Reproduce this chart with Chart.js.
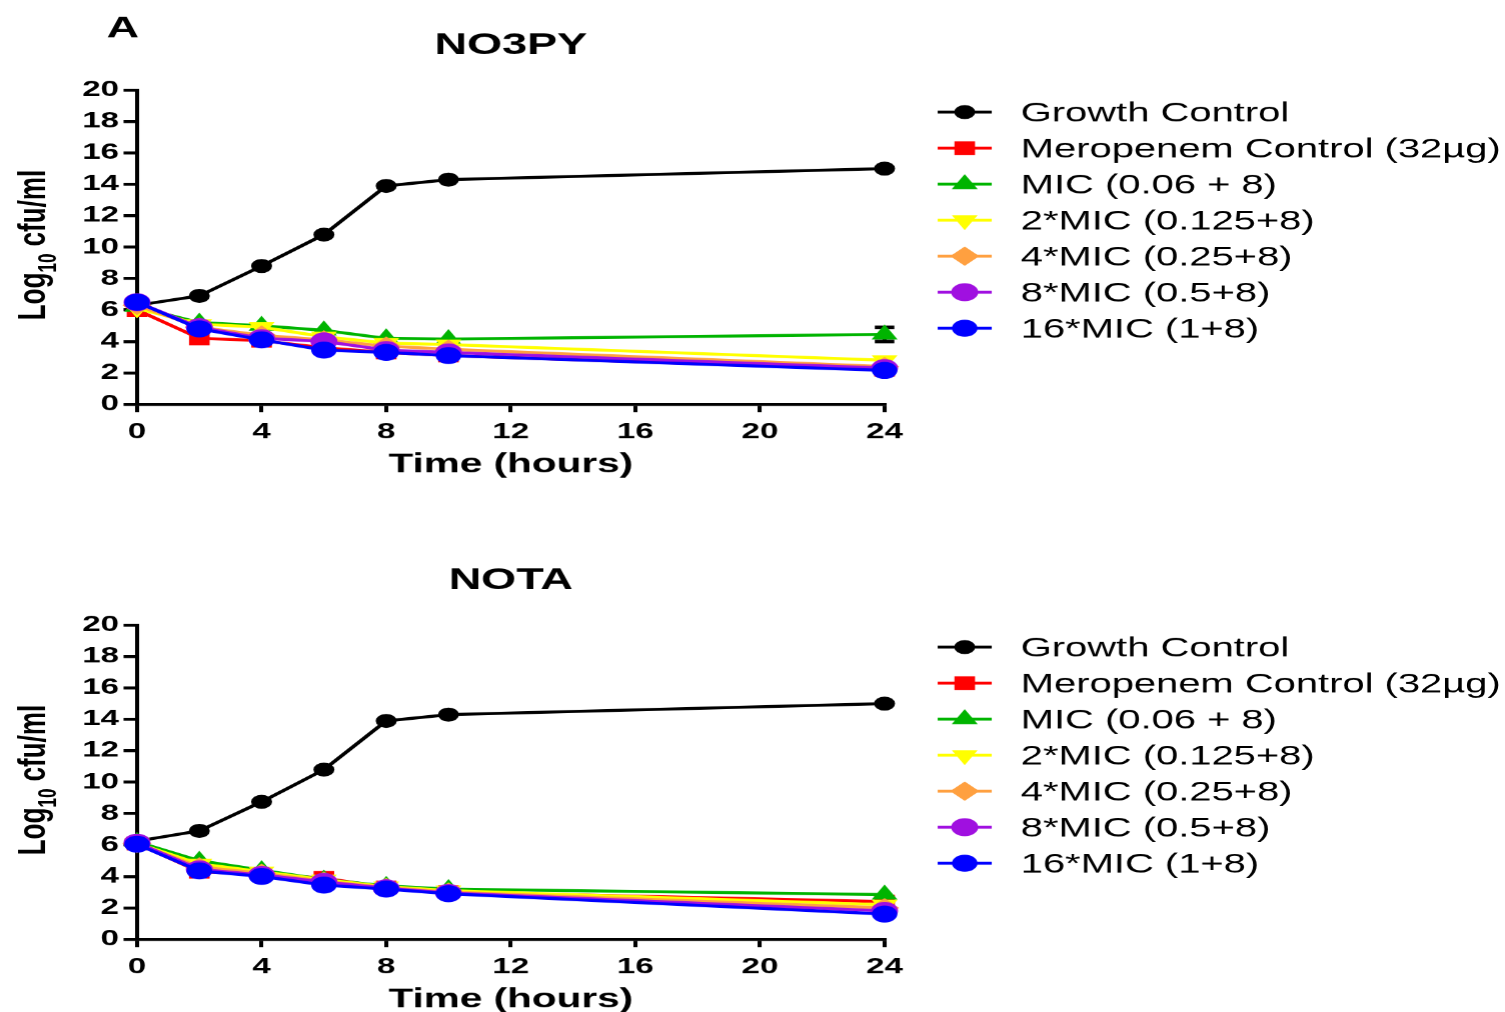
<!DOCTYPE html>
<html><head><meta charset="utf-8">
<script src="https://cdn.jsdelivr.net/npm/chart.js@4.4.0/dist/chart.umd.min.js"></script>
<style>
html,body{margin:0;padding:0;background:#fff;width:1505px;height:1012px;overflow:hidden;position:relative}
canvas{position:absolute;left:0}
</style></head><body>
<canvas id="c1" width="1003" height="535" style="width:1505px;height:535px;top:0px"></canvas>
<canvas id="c2" width="1003" height="535" style="width:1505px;height:535px;top:535px"></canvas>
<script>
// ---------- data ----------
const hours = [0, 2, 4, 6, 8, 10, 24];
const xTickValues = [0, 4, 8, 12, 16, 20, 24];
const yTickValues = [0, 2, 4, 6, 8, 10, 12, 14, 16, 18, 20];
const seriesLabels = ['Growth Control', 'Meropenem Control (32\u00b5g)', 'MIC (0.06 + 8)', '2*MIC (0.125+8)', '4*MIC (0.25+8)', '8*MIC (0.5+8)', '16*MIC (1+8)'];
const panelTitles = ['NO3PY', 'NOTA'];
const xTitle = 'Time (hours)';

// NO3PY
const no3pyGrowth = [6.3, 6.9, 8.8, 10.8, 13.9, 14.3, 15.0];
const no3pyMero   = [6.0, 4.2, 4.05, 3.6, 3.3, 3.1, 2.2];
const no3pyMIC1   = [6.2, 5.2, 5.0, 4.7, 4.2, 4.15, 4.45];
const no3pyMIC2   = [6.1, 5.1, 4.9, 4.3, 3.9, 3.8, 2.8];
const no3pyMIC4   = [6.3, 4.9, 4.4, 4.1, 3.7, 3.5, 2.4];
const no3pyMIC8   = [6.5, 4.9, 4.2, 4.0, 3.45, 3.3, 2.3];
const no3pyMIC16  = [6.5, 4.8, 4.1, 3.45, 3.3, 3.1, 2.15];
const no3pyMIC1Err = [0, 0, 0, 0, 0, 0, 0.45];

// NOTA
const notaGrowth = [6.25, 6.9, 8.75, 10.8, 13.9, 14.3, 15.0];
const notaMero   = [6.1, 4.3, 4.15, 3.9, 3.3, 3.0, 2.4];
const notaMIC1   = [6.2, 5.0, 4.4, 3.8, 3.4, 3.2, 2.85];
const notaMIC2   = [6.1, 4.8, 4.3, 3.8, 3.35, 3.1, 2.2];
const notaMIC4   = [6.1, 4.6, 4.2, 3.7, 3.3, 3.0, 2.0];
const notaMIC8   = [6.15, 4.45, 4.1, 3.65, 3.25, 2.95, 1.8];
const notaMIC16  = [6.05, 4.35, 4.0, 3.45, 3.2, 2.9, 1.6];

// ---------- styles ----------
const colors = ['#000000', '#ff0000', '#00b400', '#ffff00', '#ffa040', '#a010e0', '#0000ff'];
const styles = ['circle', 'rect', 'triangle', 'triangle', 'rectRot', 'circle', 'circle'];
const rotations = [0, 0, 0, 180, 0, 0, 0];
const radii = [6.5, 9, 9, 9, 9, 8.5, 8];
const orders = [6, 5, 4, 3, 2, 1, 0];
const FONT = '"Liberation Sans", Arial, sans-serif';

function marker(ctx, style, r, rot, x, y, color) {
  ctx.fillStyle = color; ctx.strokeStyle = color; ctx.lineWidth = 1;
  ctx.beginPath();
  if (style === 'circle') ctx.arc(x, y, r, 0, Math.PI * 2);
  else if (style === 'rect') { const s = r * Math.SQRT1_2; ctx.rect(x - s, y - s, 2 * s, 2 * s); }
  else if (style === 'rectRot') { ctx.moveTo(x - r, y); ctx.lineTo(x, y - r); ctx.lineTo(x + r, y); ctx.lineTo(x, y + r); ctx.closePath(); }
  else if (style === 'triangle') {
    let rad = rot * Math.PI / 180;
    ctx.moveTo(x + Math.sin(rad) * r, y - Math.cos(rad) * r);
    rad += 2 * Math.PI / 3; ctx.lineTo(x + Math.sin(rad) * r, y - Math.cos(rad) * r);
    rad += 2 * Math.PI / 3; ctx.lineTo(x + Math.sin(rad) * r, y - Math.cos(rad) * r);
    ctx.closePath();
  }
  ctx.fill(); ctx.stroke();
}

const decor = {
  id: 'decor',
  beforeDatasetsDraw(chart) {
    const ctx = chart.ctx, xs = chart.scales.x, ys = chart.scales.y;
    chart.data.datasets.forEach(ds => {
      if (!ds.errors) return;
      ds.errors.forEach((e, i) => {
        if (!e) return;
        const v = ds.data[i].y;
        const px = xs.getPixelForValue(ds.data[i].x);
        const yt = ys.getPixelForValue(v + e), yb = ys.getPixelForValue(v - e);
        ctx.save(); ctx.strokeStyle = '#000';
        ctx.lineWidth = 2.7; ctx.beginPath(); ctx.moveTo(px, yb); ctx.lineTo(px, yt); ctx.stroke();
        ctx.lineWidth = 3.5; ctx.beginPath();
        ctx.moveTo(px - 6.5, yt); ctx.lineTo(px + 6.5, yt);
        ctx.moveTo(px - 6.5, yb); ctx.lineTo(px + 6.5, yb); ctx.stroke();
        ctx.restore();
      });
    });
  },
  afterDraw(chart) {
    const o = chart.options.plugins.decor;
    const ctx = chart.ctx, ca = chart.chartArea;
    const cx = (ca.left + ca.right) / 2;
    ctx.save();
    ctx.fillStyle = '#000'; ctx.textBaseline = 'alphabetic';
    if (o.panel) { ctx.font = 'bold 30px ' + FONT; ctx.textAlign = 'left'; ctx.fillText(o.panel, 71, 37); }
    ctx.font = 'bold 30px ' + FONT; ctx.textAlign = 'center'; ctx.fillText(o.title, cx, 54);
    ctx.font = 'bold 27px ' + FONT; ctx.fillText(xTitle, cx, 472);
    // y axis title
    ctx.save();
    ctx.translate(30, 320); ctx.rotate(-Math.PI / 2); ctx.textAlign = 'left';
    ctx.font = 'bold 26px ' + FONT; ctx.fillText('Log', 0, 0);
    let w = ctx.measureText('Log').width;
    ctx.font = 'bold 17px ' + FONT; ctx.fillText('10', w, 7);
    w += ctx.measureText('10').width;
    ctx.font = 'bold 26px ' + FONT; ctx.fillText(' cfu/ml', w, 0);
    ctx.restore();
    // legend
    chart.data.datasets.forEach((ds, i) => {
      const y = 112 + 36 * i;
      ctx.strokeStyle = colors[i]; ctx.lineWidth = 3;
      ctx.beginPath(); ctx.moveTo(624.7, y); ctx.lineTo(660.7, y); ctx.stroke();
      marker(ctx, styles[i], radii[i], rotations[i], 642.7, y, colors[i]);
      ctx.fillStyle = '#000'; ctx.font = '26.6px ' + FONT; ctx.textAlign = 'left';
      ctx.fillText(ds.label, 680, y + 9.5);
    });
    ctx.restore();
  }
};

function makeChart(id, series, errs, title, panel) {
  const datasets = seriesLabels.map((lab, i) => ({
    label: lab,
    data: hours.map((h, j) => ({ x: h, y: series[i][j] })),
    errors: errs[i],
    borderColor: colors[i], backgroundColor: colors[i],
    pointBackgroundColor: colors[i], pointBorderColor: colors[i],
    borderWidth: 3, pointRadius: radii[i], pointHoverRadius: radii[i],
    pointStyle: styles[i], pointRotation: rotations[i], pointBorderWidth: 1,
    order: orders[i], clip: false, tension: 0
  }));
  const tickFont = { family: FONT, size: 22, weight: 'bold' };
  return new Chart(document.getElementById(id), {
    type: 'line',
    data: { datasets },
    plugins: [decor],
    options: {
      responsive: false, animation: false, devicePixelRatio: 1.5, events: [],
      layout: { padding: { left: 0, right: 413.7, top: 90, bottom: 0 } },
      plugins: { legend: { display: false }, tooltip: { enabled: false }, decor: { title, panel } },
      scales: {
        x: {
          type: 'linear', min: 0, max: 24,
          afterBuildTicks: s => { s.ticks = xTickValues.map(v => ({ value: v })); },
          afterFit: s => { s.height = 131; },
          ticks: { font: tickFont, color: '#000', padding: 7, maxRotation: 0, autoSkip: false },
          grid: { drawOnChartArea: false, drawTicks: true, tickLength: 8, color: '#000', lineWidth: 2.7 },
          border: { color: '#000', width: 3 }
        },
        y: {
          type: 'linear', min: 0, max: 20,
          afterBuildTicks: s => { s.ticks = yTickValues.map(v => ({ value: v })); },
          afterFit: s => { s.width = 91.3; },
          ticks: { font: tickFont, color: '#000', padding: 3, autoSkip: false },
          grid: { drawOnChartArea: false, drawTicks: true, tickLength: 9, color: '#000', lineWidth: 3 },
          border: { color: '#000', width: 2.7 }
        }
      }
    }
  });
}

const none = [0, 0, 0, 0, 0, 0, 0];
makeChart('c1',
  [no3pyGrowth, no3pyMero, no3pyMIC1, no3pyMIC2, no3pyMIC4, no3pyMIC8, no3pyMIC16],
  [none, none, no3pyMIC1Err, none, none, none, none], panelTitles[0], 'A');
makeChart('c2',
  [notaGrowth, notaMero, notaMIC1, notaMIC2, notaMIC4, notaMIC8, notaMIC16],
  [none, none, none, none, none, none, none], panelTitles[1], null);
</script>
</body></html>
